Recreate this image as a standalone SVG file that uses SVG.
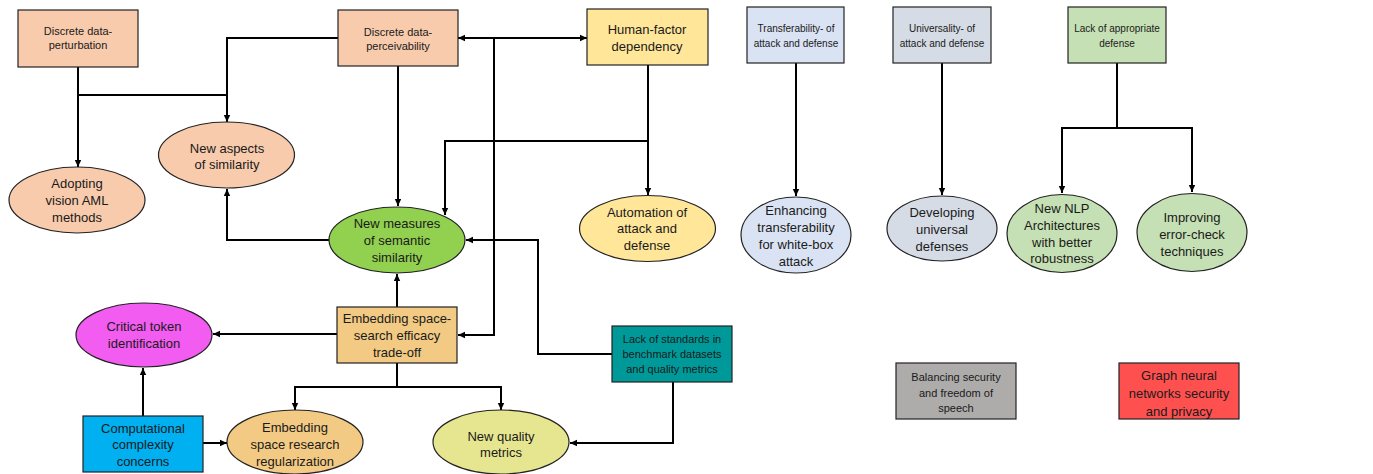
<svg xmlns="http://www.w3.org/2000/svg" width="1373" height="474" viewBox="0 0 1373 474">
<style>
text{font-family:"Liberation Sans",Arial,sans-serif;fill:#1a1a1a;text-anchor:middle}
.s{font-size:11px}.m{font-size:13px}.xs{font-size:10px}
.n rect,.n ellipse{stroke:#222;stroke-width:1.2}
.c path{fill:none;stroke:#000;stroke-width:2}
.a{marker-end:url(#ah)}
</style>
<defs>
<marker id="ah" markerUnits="userSpaceOnUse" markerWidth="8" markerHeight="8" viewBox="0 0 8 8" refX="7" refY="4" orient="auto-start-reverse"><path d="M0,0.8 L7,4 L0,7.2 Z" fill="#000"/></marker>
</defs>
<rect width="1373" height="474" fill="#fff"/>
<g class="c" id="connectors">
<path class="a" d="M78,67 V167"/>
<path d="M78,95 H227"/>
<path class="a" d="M338,38 H227 V122"/>
<path class="a" d="M398,66 V206"/>
<path class="a" d="M458,38 H587" marker-start="url(#ah)"/>
<path class="a" d="M494,38 V335 H458"/>
<path class="a" d="M648,65 V195"/>
<path class="a" d="M648,141 H445 V215"/>
<path class="a" d="M329,240 H227 V189"/>
<path class="a" d="M612,354 H538 V240 H466"/>
<path class="a" d="M397,307 V274"/>
<path class="a" d="M337,334 H213"/>
<path class="a" d="M397,363 V387 H295 V410"/>
<path class="a" d="M397,387 H501 V410"/>
<path class="a" d="M143,416 V368"/>
<path class="a" d="M203,443 H227"/>
<path class="a" d="M673,382 V443 H570"/>
<path class="a" d="M796,63 V196"/>
<path class="a" d="M942,63 V195"/>
<path class="a" d="M1117,63 V128 H1062 V193"/>
<path class="a" d="M1117,128 H1192 V192"/>
</g>
<g class="n" id="perturbation"><rect x="18" y="10" width="120" height="57" fill="#F8CBAD"/><text class="s" x="78" y="35">Discrete data-</text><text class="s" x="78" y="49">perturbation</text></g>
<g class="n" id="perceivability"><rect x="338" y="10" width="120" height="56" fill="#F8CBAD"/><text class="s" x="398" y="36">Discrete data-</text><text class="s" x="398" y="50">perceivability</text></g>
<g class="n" id="humanfactor"><rect x="587" y="9" width="121" height="56" fill="#FFE699"/><text class="m" x="647" y="34">Human-factor</text><text class="m" x="647" y="51">dependency</text></g>
<g class="n" id="newaspects"><ellipse cx="226.5" cy="155" rx="68" ry="33" fill="#F8CBAD"/><text class="m" x="227" y="152.5">New aspects</text><text class="m" x="227" y="169">of similarity</text></g>
<g class="n" id="adopting"><ellipse cx="77" cy="200" rx="68" ry="33" fill="#F8CBAD"/><text class="m" x="77" y="188">Adopting</text><text class="m" x="77" y="205">vision AML</text><text class="m" x="77" y="222">methods</text></g>
<g class="n" id="newmeasures"><ellipse cx="397" cy="240" rx="68" ry="33" fill="#92D050"/><text class="m" x="397" y="228">New measures</text><text class="m" x="397" y="245">of semantic</text><text class="m" x="397" y="262">similarity</text></g>
<g class="n" id="automation"><ellipse cx="647.5" cy="228.5" rx="68" ry="33" fill="#FFE699"/><text class="m" x="647" y="217">Automation of</text><text class="m" x="647" y="233">attack and</text><text class="m" x="647" y="250">defense</text></g>
<g class="n" id="critical"><ellipse cx="144" cy="335" rx="68" ry="32" fill="#F25CF0"/><text class="m" x="144" y="331">Critical token</text><text class="m" x="144" y="348">identification</text></g>
<g class="n" id="embeddingbox"><rect x="337" y="307" width="120" height="56" fill="#F2CA83"/><text class="m" x="397" y="323">Embedding space-</text><text class="m" x="397" y="340">search efficacy</text><text class="m" x="397" y="357">trade-off</text></g>
<g class="n" id="lackstandards"><rect x="612" y="326" width="120" height="56" fill="#009999"/><text class="s" x="672" y="343">Lack of standards in</text><text class="s" x="672" y="358">benchmark datasets</text><text class="s" x="672" y="373">and quality metrics</text></g>
<g class="n" id="computational"><rect x="83" y="416" width="120" height="56" fill="#00B0F0"/><text class="m" x="143" y="432.5">Computational</text><text class="m" x="143" y="449">complexity</text><text class="m" x="143" y="465.5">concerns</text></g>
<g class="n" id="embeddingresearch"><ellipse cx="295" cy="442" rx="68" ry="32" fill="#F2CA83"/><text class="m" x="295" y="432">Embedding</text><text class="m" x="295" y="449">space research</text><text class="m" x="295" y="466">regularization</text></g>
<g class="n" id="newquality"><ellipse cx="501" cy="442" rx="68" ry="32" fill="#E6E690"/><text class="m" x="501" y="441">New quality</text><text class="m" x="501" y="457">metrics</text></g>
<g class="n" id="transferability"><rect x="747" y="7" width="97" height="56" fill="#DAE3F3"/><text class="xs" x="796" y="32">Transferability- of</text><text class="xs" x="796" y="47">attack and defense</text></g>
<g class="n" id="universality"><rect x="893" y="7" width="98" height="56" fill="#D6DCE5"/><text class="xs" x="942" y="32">Universality- of</text><text class="xs" x="942" y="47">attack and defense</text></g>
<g class="n" id="lackdefense"><rect x="1068" y="7" width="98" height="56" fill="#C5E0B4"/><text class="xs" x="1117" y="32">Lack of appropriate</text><text class="xs" x="1117" y="47">defense</text></g>
<g class="n" id="enhancing"><ellipse cx="796" cy="235" rx="55" ry="38" fill="#DAE3F3"/><text class="m" x="796" y="214.5">Enhancing</text><text class="m" x="796" y="231.5">transferability</text><text class="m" x="796" y="248.5">for white-box</text><text class="m" x="796" y="265.5">attack</text></g>
<g class="n" id="developing"><ellipse cx="942" cy="228.5" rx="55" ry="32.5" fill="#D6DCE5"/><text class="m" x="942" y="216.5">Developing</text><text class="m" x="942" y="233.5">universal</text><text class="m" x="942" y="250.5">defenses</text></g>
<g class="n" id="newnlp"><ellipse cx="1062" cy="233.5" rx="55" ry="39" fill="#C5E0B4"/><text class="m" x="1062" y="212.5">New NLP</text><text class="m" x="1062" y="229.5">Architectures</text><text class="m" x="1062" y="246.5">with better</text><text class="m" x="1062" y="262.5">robustness</text></g>
<g class="n" id="improving"><ellipse cx="1192" cy="232.5" rx="55" ry="39" fill="#C5E0B4"/><text class="m" x="1192" y="221.5">Improving</text><text class="m" x="1192" y="238.5">error-check</text><text class="m" x="1192" y="255.5">techniques</text></g>
<g class="n" id="balancing"><rect x="896" y="363" width="120" height="56" fill="#AEABAB"/><text class="s" x="956" y="381">Balancing security</text><text class="s" x="956" y="397">and freedom of</text><text class="s" x="956" y="412">speech</text></g>
<g class="n" id="graphnn"><rect x="1119" y="363" width="120" height="56" fill="#FF5050"/><text class="m" x="1179" y="379.5">Graph neural</text><text class="m" x="1179" y="397.5">networks security</text><text class="m" x="1179" y="415.5">and privacy</text></g>
</svg>
